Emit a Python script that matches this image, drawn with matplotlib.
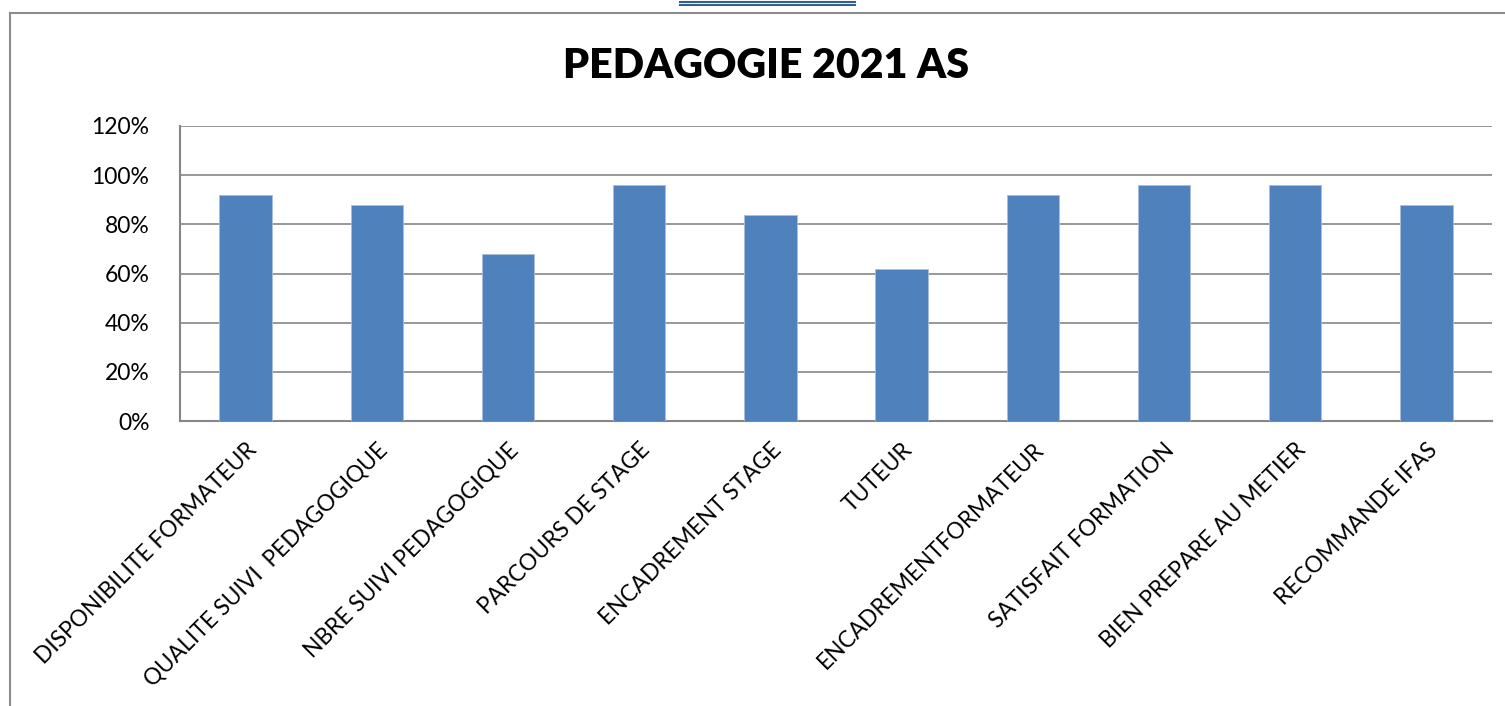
import matplotlib.pyplot as plt
from matplotlib.ticker import PercentFormatter
from matplotlib.lines import Line2D

categories = ['DISPONIBILITE FORMATEUR', 'QUALITE SUIVI  PEDAGOGIQUE', 'NBRE SUIVI PEDAGOGIQUE',
              'PARCOURS DE STAGE', 'ENCADREMENT STAGE', 'TUTEUR', 'ENCADREMENTFORMATEUR',
              'SATISFAIT FORMATION', 'BIEN PREPARE AU METIER', 'RECOMMANDE IFAS']
values = [92, 88, 68, 96, 84, 62, 92, 96, 96, 88]
yticks = [0, 20, 40, 60, 80, 100, 120]

plt.rcParams['font.family'] = ['Lato', 'DejaVu Sans']

fig = plt.figure(figsize=(15.05, 7.06), dpi=100)
ax = fig.add_axes([180/1505, 1-421/706, (1492-180)/1505, (421-126)/706])

x = list(range(len(categories)))
ax.bar(x, values, width=0.4, color='#4F81BD', edgecolor='#A7C0DE', linewidth=0.6, zorder=3)
ax.set_xlim(-0.5, len(categories)-0.5)
ax.set_ylim(0, 120)
ax.set_yticks(yticks)
ax.yaxis.set_major_formatter(PercentFormatter(decimals=0))
ax.grid(axis='y', color='#868686', linewidth=1.2, zorder=0)
ax.tick_params(axis='y', length=0, pad=22, labelsize=16.5)
ax.tick_params(axis='x', length=0, pad=13)
ax.set_xticks(x)
ax.set_xticklabels(categories, rotation=45, ha='right', va='top', rotation_mode='anchor', fontsize=16.3)
for s in ['top', 'right']:
    ax.spines[s].set_visible(False)
for s in ['left', 'bottom']:
    ax.spines[s].set_color('#868686')
    ax.spines[s].set_linewidth(1.5)

fig.text(766/1505, 1-66/706, 'PEDAGOGIE 2021 AS', ha='center', va='center',
         fontsize=29.6, fontweight='heavy')

# outer frame
fig.add_artist(Line2D([10/1505, 1], [1-13/706, 1-13/706], color='#8c8c8c', lw=1.5, transform=fig.transFigure))
fig.add_artist(Line2D([10/1505, 10/1505], [0, 1-13/706], color='#8c8c8c', lw=1.5, transform=fig.transFigure))
# header rule
for yy in [1.5, 5]:
    fig.add_artist(Line2D([680/1505, 855/1505], [1-yy/706, 1-yy/706], color='#365F91', lw=1.5,
                          transform=fig.transFigure))

fig.savefig('out.png', dpi=100)
